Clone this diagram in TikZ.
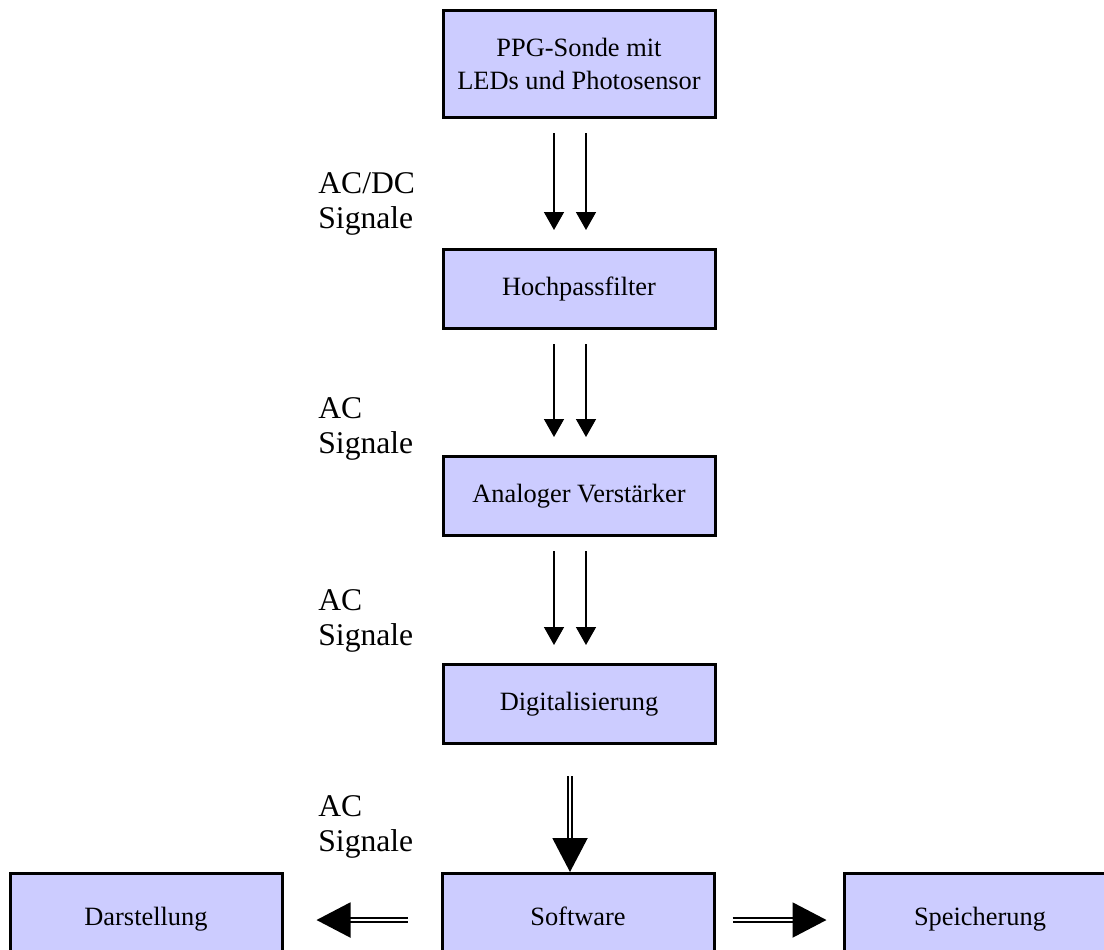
\documentclass[tikz,border=0pt]{standalone}
\usepackage{fontspec}
\setmainfont{Liberation Serif}
\usetikzlibrary{arrows.meta}
\definecolor{boxblue}{RGB}{204,204,255}

\begin{document}
\begin{tikzpicture}[x=0.5pt,y=-0.5pt,
    block/.style={draw,line width=1.5pt,fill=boxblue,minimum width=136pt,minimum height=39.5pt,inner sep=0pt,align=center,font=\fontsize{13.2}{16.5}\selectfont},
    lowblock/.style={block,minimum height=44.5pt,text height=1em,text depth=0.22em},
    sig/.style={-{Triangle[width=10pt,length=9pt]},line width=0.75pt,shorten <=7pt,shorten >=9pt},
    dbl/.style={-{Triangle[width=17.5pt,length=17pt]},double,double distance=1.4pt,line width=1pt},
    lbl/.style={anchor=west,align=left,inner sep=0pt,font=\fontsize{15.8}{17.5}\selectfont}]
    \useasboundingbox (0,0) rectangle (1104,949);
    \clip (0,0) rectangle (1104,949);
    \node[block,minimum height=53.5pt] (sonde) at (579,64) {PPG-Sonde mit\\LEDs und Photosensor};
    \node[block] (hochpass) at (579,289) {Hochpassfilter};
    \node[block] (verstaerker) at (579,496) {Analoger Verstärker};
    \node[block] (digital) at (579,704) {Digitalisierung};
    \node[lowblock] (software) at (578,918) {Software};
    \node[lowblock] (darstellung) at (146,918) {Darstellung};
    \node[lowblock] (speicherung) at (980,918) {Speicherung};
    \foreach \a/\b in {sonde/hochpass,hochpass/verstaerker,verstaerker/digital}{
        \draw[sig] ([xshift=-12.5pt]\a.south) -- ([xshift=-12.5pt]\b.north);
        \draw[sig] ([xshift=3.5pt]\a.south) -- ([xshift=3.5pt]\b.north);
    }
    \draw[dbl,shorten <=15.5pt] ([xshift=-4.5pt]digital.south) -- ([xshift=-4pt]software.north);
    \draw[dbl,shorten <=16.5pt,shorten >=16.5pt] ([yshift=-1pt]software.west) -- ([yshift=-1pt]darstellung.east);
    \draw[dbl,shorten <=8.5pt,shorten >=8pt] ([yshift=-1pt]software.east) -- ([yshift=-1pt]speicherung.west);
    \node[lbl] (lbla) at (318,204) {AC/DC\\Signale};
    \node[lbl] (lblb) at (318,429) {AC\\Signale};
    \node[lbl] (lblc) at (318,621) {AC\\Signale};
    \node[lbl] (lbld) at (318,827) {AC\\Signale};
\end{tikzpicture}
\end{document}
